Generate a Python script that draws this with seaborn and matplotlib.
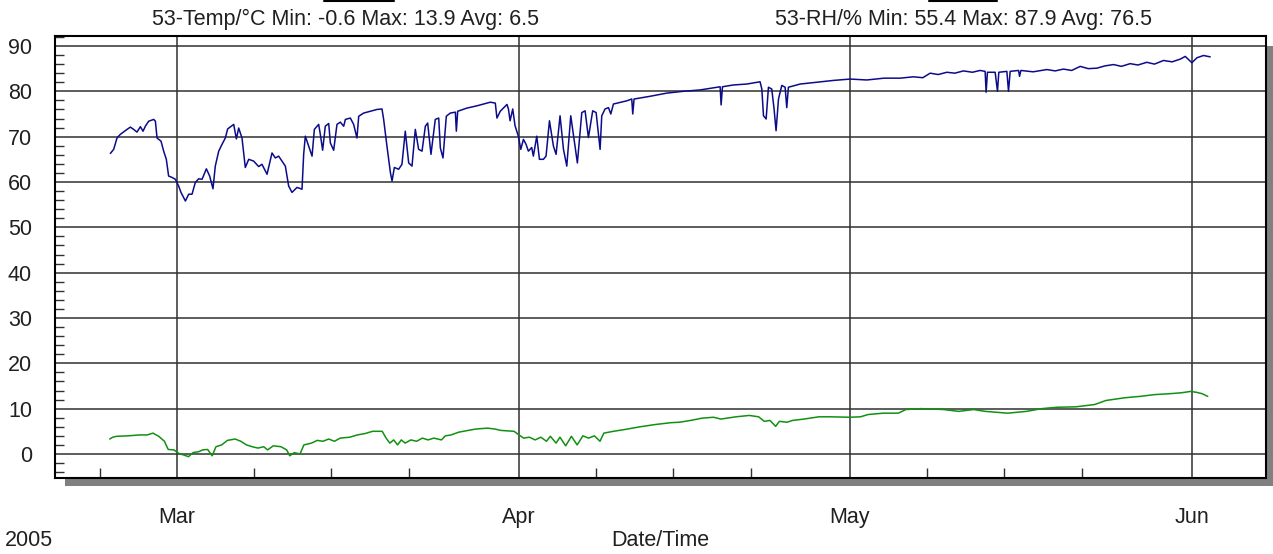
import pandas as pd
import numpy as np
import seaborn as sns
import matplotlib.pyplot as plt
import matplotlib.dates as mdates
from matplotlib.patches import Rectangle
from matplotlib.lines import Line2D
from matplotlib.ticker import MultipleLocator

# days since 2005-03-01
rh_day = [-6.04, -5.74, -5.44, -5.14, -4.53, -4.23, -3.93, -3.63, -3.32, -3.08, -2.87, -2.57,
          -2.11, -1.96, -1.81, -1.45, -1.21, -0.97, -0.76, -0.45, -0.15, 0.15, 0.36, 0.76,
          1.06, 1.36, 1.66, 1.96, 2.27, 2.66, 2.96, 3.26, 3.47, 3.78, 4.08, 4.38, 4.59, 5.14,
          5.38, 5.59, 5.89, 6.19, 6.50, 6.95, 7.40, 7.70, 8.16, 8.61, 8.91, 9.21, 9.52, 9.82,
          10.12, 10.42, 10.88, 11.33, 11.48, 11.63, 11.93, 12.24, 12.45, 12.84, 12.99, 13.20,
          13.44, 13.75, 13.90, 14.20, 14.50, 14.80, 15.11, 15.26, 15.71, 16.01, 16.31, 16.47,
          16.92, 17.52, 18.13, 18.58, 18.73, 19.03, 19.34, 19.49, 19.70, 20.09, 20.39, 20.69,
          21.00, 21.30, 21.60, 21.90, 22.21, 22.51, 22.72, 23.02, 23.41, 23.72, 23.87, 24.11,
          24.41, 24.77, 25.23, 25.32, 25.44, 26.28, 27.19, 28.40, 28.85, 29.00, 29.30, 29.91,
          30.04, 30.19, 30.43, 30.64, 30.94, 31.16, 31.40, 31.64, 31.85, 32.15, 32.30, 32.61,
          32.85, 33.21, 33.45, 33.76, 34.12, 34.36, 34.72, 35.03, 35.33, 35.69, 35.99, 36.29,
          36.69, 36.99, 37.29, 37.68, 37.99, 38.35, 38.50, 38.80, 39.11, 39.32, 39.56, 40.77,
          41.22, 41.31, 41.43, 42.88, 44.39, 45.90, 47.41, 48.93, 49.23, 49.32, 49.44, 50.43,
          51.64, 52.85, 53.01, 53.16, 53.40, 53.61, 53.91, 54.12, 54.30, 54.52, 54.82, 55.12,
          55.27, 55.42, 56.48, 57.99, 59.50, 61.02, 62.52, 64.10, 65.55, 66.76, 67.60, 68.27,
          69.00, 69.78, 70.50, 71.29, 72.10, 72.79, 73.25, 73.34, 73.46, 74.16, 74.37, 74.49,
          75.22, 75.37, 75.52, 76.28, 76.37, 76.49, 77.60, 78.85, 79.60, 80.35, 81.10, 81.87,
          82.60, 83.38, 84.10, 84.89, 85.60, 86.40, 87.10, 87.91, 88.60, 89.42, 90.20, 90.94,
          91.39, 91.99, 92.45, 93.05, 93.65]
rh_val = [66.3, 67.2, 69.7, 70.5, 71.6, 72.1, 71.6, 71.0, 72.2, 71.2, 72.3, 73.4,
          73.8, 73.4, 69.7, 69.0, 66.8, 65.0, 61.3, 61.0, 60.6, 59.1, 57.7, 55.8,
          57.3, 57.3, 59.9, 60.7, 60.6, 62.9, 61.3, 58.5, 63.5, 66.8, 68.3, 69.7, 71.7, 72.7,
          69.5, 71.9, 69.7, 63.2, 65.0, 64.6, 63.4, 63.9, 61.7, 66.4, 65.3, 65.7, 64.6, 63.5,
          59.1, 57.7, 58.8, 58.4, 66.1, 70.1, 67.9, 65.7, 71.6, 72.7, 70.5, 67.0,
          72.3, 72.9, 68.6, 67.0, 72.7, 73.2, 72.3, 73.8, 74.1, 72.7, 69.7, 74.5,
          75.2, 75.6, 76.0, 76.1, 73.8, 67.9, 62.1, 60.2, 63.2, 62.8, 63.9, 71.2,
          64.2, 63.5, 71.6, 67.2, 66.8, 72.3, 73.0, 66.1, 73.8, 74.1, 67.5, 65.3,
          74.5, 75.2, 75.4, 71.2, 75.6, 76.3, 76.8, 77.6, 77.4, 74.1, 75.6, 77.1,
          76.1, 73.5, 76.1, 72.4, 70.1, 67.2, 69.4, 68.3, 66.8, 67.6, 65.7, 70.1,
          65.0, 65.0, 65.7, 73.5, 67.9, 66.1, 74.6, 67.2, 63.5, 74.6, 69.4, 64.2,
          75.3, 75.7, 69.8, 75.7, 75.3, 67.2, 74.6, 76.1, 76.4, 75.0, 77.2, 77.9,
          78.3, 75.0, 78.3, 78.9, 79.6, 80.0, 80.3, 80.9, 81.0, 77.0, 81.0, 81.4,
          81.6, 82.1, 80.5, 74.6, 73.9, 80.9, 80.5, 76.1, 71.3, 78.3, 81.3, 80.9,
          76.4, 80.9, 81.6, 82.0, 82.4, 82.7, 82.5, 82.9, 82.9, 83.2, 83.0, 84.0,
          83.7, 84.2, 84.0, 84.5, 84.2, 84.6, 84.4, 79.8, 84.2, 84.2, 80.0, 84.2,
          84.4, 80.0, 84.4, 84.6, 83.3, 84.6, 84.3, 84.8, 84.5, 84.9, 84.6, 85.5,
          85.0, 85.1, 85.6, 85.9, 85.5, 86.1, 85.8, 86.4, 86.0, 86.8, 86.5, 87.1,
          87.7, 86.3, 87.4, 87.9, 87.6]

temp_day = [-6.10, -5.82, -5.47, -4.43, -3.39, -2.70, -2.18, -1.66, -1.14, -0.80, -0.28, 0.24,
            0.59, 1.04, 1.45, 1.97, 2.32, 2.77, 3.19, 3.53, 4.05, 4.57, 5.27, 5.78, 6.30, 6.82,
            7.34, 7.86, 8.21, 8.73, 9.42, 9.94, 10.22, 10.63, 11.15, 11.50, 12.19, 12.71, 13.23,
            13.75, 14.27, 14.79, 15.66, 16.35, 17.04, 17.73, 18.60, 18.95, 19.29, 19.64, 19.99,
            20.33, 20.68, 21.20, 21.72, 22.24, 22.76, 23.28, 23.97, 24.32, 24.84, 25.53, 26.39,
            27.09, 28.13, 28.82, 29.34, 30.55, 31.00, 31.42, 31.94, 32.46, 32.98, 33.49, 33.84,
            34.36, 34.71, 35.23, 35.75, 36.27, 36.79, 37.31, 37.83, 38.34, 38.69, 39.56, 40.60,
            41.98, 43.37, 44.75, 45.54, 46.56, 47.59, 48.62, 49.30, 50.67, 51.87, 52.72, 53.23,
            53.75, 54.26, 54.60, 55.29, 55.80, 56.83, 58.19, 59.22, 61.00, 61.96, 62.64, 64.01,
            65.38, 66.06, 67.43, 69.48, 70.85, 72.22, 73.25, 74.27, 75.30, 77.01, 78.38, 79.75,
            81.46, 83.17, 84.20, 85.91, 87.27, 88.64, 90.01, 91.04, 91.89, 92.41, 92.92, 93.43]
temp_val = [3.3, 3.7, 3.9, 4.0, 4.2, 4.2, 4.6, 3.9, 2.8, 1.0, 0.9, 0.0,
            -0.2, -0.6, 0.3, 0.5, 0.9, 1.0, -0.4, 1.6, 2.0, 3.0, 3.3, 2.8, 2.0, 1.6,
            1.3, 1.6, 0.9, 1.8, 1.6, 0.9, -0.4, 0.3, 0.0, 2.0, 2.4, 3.0, 2.8,
            3.3, 2.8, 3.5, 3.7, 4.2, 4.5, 5.0, 5.0, 3.5, 2.4, 3.1, 2.0,
            3.1, 2.4, 3.1, 2.8, 3.5, 3.1, 3.5, 3.1, 4.0, 4.2, 4.8, 5.2,
            5.5, 5.7, 5.5, 5.2, 5.0, 4.2, 3.5, 3.7, 3.1, 3.7, 2.8, 3.9,
            2.4, 3.7, 1.8, 3.9, 2.0, 4.0, 3.5, 4.0, 2.8, 4.6, 5.0, 5.4,
            6.0, 6.5, 6.9, 7.0, 7.4, 7.9, 8.1, 7.7, 8.2, 8.5, 8.2, 7.2,
            7.4, 6.1, 7.2, 7.0, 7.4, 7.7, 8.2, 8.2, 8.1, 8.2, 8.7, 9.0,
            9.0, 9.8, 10.0, 9.8, 9.4, 9.8, 9.4, 9.2, 9.0, 9.4, 10.0, 10.3,
            10.4, 10.9, 11.8, 12.4, 12.7, 13.1, 13.3, 13.5, 13.8, 13.6, 13.3, 12.7]

temp_label = '53-Temp/°C Min: -0.6 Max: 13.9 Avg: 6.5'
rh_label = '53-RH/% Min: 55.4 Max: 87.9 Avg: 76.5'

base = pd.Timestamp('2005-03-01')
rh_df = pd.DataFrame({'time': base + pd.to_timedelta(rh_day, unit='D'), 'value': rh_val})
temp_df = pd.DataFrame({'time': base + pd.to_timedelta(temp_day, unit='D'), 'value': temp_val})

sns.set_style('white')
plt.rcParams['font.family'] = ['Liberation Sans', 'DejaVu Sans']
fs = 15.5

W, H = 1273, 554
fig = plt.figure(figsize=(W / 100, H / 100), dpi=100)
fig.patch.set_facecolor('white')

# drop shadow behind the plot frame
fig.patches.append(Rectangle((65 / W, 1 - 486 / H), (W - 65 + 5) / W, (486 - 46) / H,
                             transform=fig.transFigure, facecolor='#808080',
                             edgecolor='none', zorder=-1))

ax = fig.add_axes([55 / W, 1 - 478 / H, (1266 - 55) / W, (478 - 36) / H])
ax.set_facecolor('white')

sns.lineplot(data=rh_df, x='time', y='value', color='#0c0c8a', linewidth=1.1,
             estimator=None, sort=False, ax=ax)
sns.lineplot(data=temp_df, x='time', y='value', color='#129012', linewidth=1.1,
             estimator=None, sort=False, ax=ax)

ax.set_ylim(-5.3, 92.2)
ax.set_xlim(base - pd.Timedelta(days=11.06), pd.Timestamp('2005-06-01') + pd.Timedelta(days=6.71))

ax.yaxis.set_major_locator(MultipleLocator(10))
ax.yaxis.set_minor_locator(MultipleLocator(2))
ax.xaxis.set_major_locator(mdates.MonthLocator())
ax.xaxis.set_major_formatter(mdates.DateFormatter('%b'))
ax.xaxis.set_minor_locator(mdates.DayLocator(bymonthday=[8, 15, 22]))

ax.grid(True, which='major', color='#303030', linewidth=1.1)
ax.set_axisbelow(True)
for s in ax.spines.values():
    s.set_visible(True)
    s.set_color('black')
    s.set_linewidth(1.5)

ax.tick_params(axis='y', which='major', direction='out', length=7.5, width=1.1,
               color='#303030', pad=9, labelsize=fs, labelcolor='#202020')
ax.tick_params(axis='y', which='minor', direction='in', length=6.5, width=1.0,
               color='#303030', left=True)
ax.tick_params(axis='x', which='major', direction='out', length=13, width=1.1,
               color='#303030', pad=8, labelsize=fs, labelcolor='#202020')
ax.tick_params(axis='x', which='minor', direction='in', length=7.5, width=1.0,
               color='#303030', bottom=True)
ax.set_xlabel('')
ax.set_ylabel('')

fig.text(346 / W, 1 - 19 / H, temp_label, ha='center', va='center', fontsize=fs, color='#202020')
fig.text(963 / W, 1 - 19 / H, rh_label, ha='center', va='center', fontsize=fs, color='#202020')
fig.text(660 / W, 1 - 540 / H, 'Date/Time', ha='center', va='center', fontsize=fs, color='#202020')
fig.text(5 / W, 1 - 540 / H, '2005', ha='left', va='center', fontsize=fs, color='#202020')

# legend swatches cut off at the top edge
fig.add_artist(Line2D([324 / W, 394 / W], [1 - 1 / H, 1 - 1 / H], color='black', linewidth=1.5))
fig.add_artist(Line2D([929 / W, 997 / W], [1 - 1 / H, 1 - 1 / H], color='black', linewidth=1.5))

plt.savefig('out.png', dpi=100)
plt.close('all')
